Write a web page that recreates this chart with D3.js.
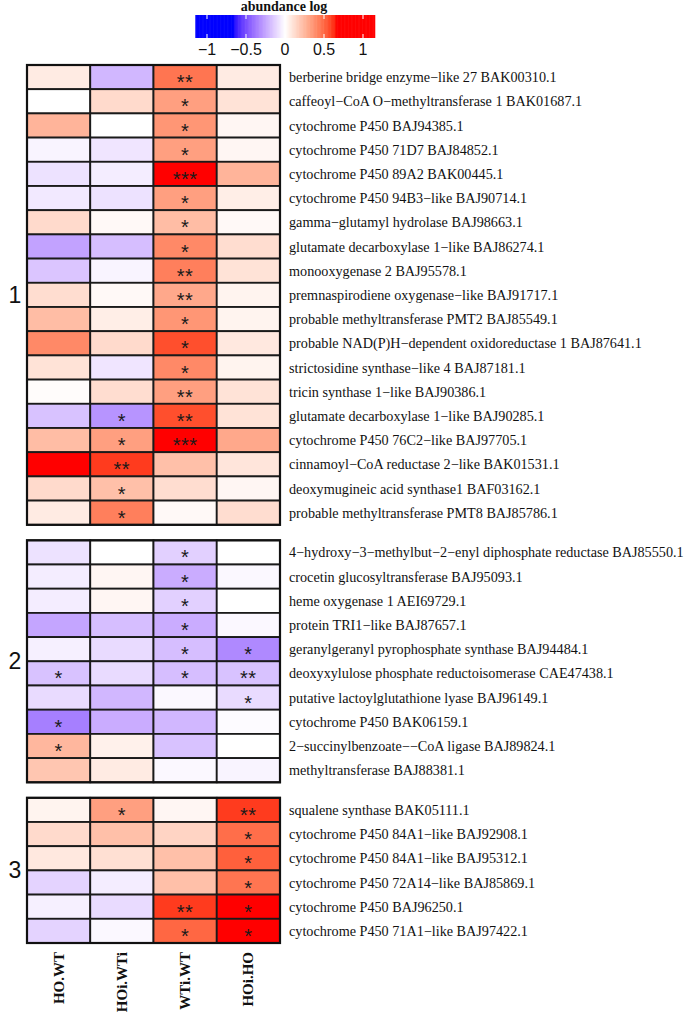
<!DOCTYPE html>
<html><head><meta charset="utf-8">
<script src="https://cdn.jsdelivr.net/npm/d3@7"></script>
<style>body{margin:0;background:#fff}svg{display:block}</style>
</head><body>
<script>
const columns = ["HO.WT","HOi.WTi","WTi.WT","HOi.HO"];
const groupNames = ["1","2","3"];

const labels1 = [
"berberine bridge enzyme\u2212like 27 BAK00310.1",
"caffeoyl\u2212CoA O\u2212methyltransferase 1 BAK01687.1",
"cytochrome P450 BAJ94385.1",
"cytochrome P450 71D7 BAJ84852.1",
"cytochrome P450 89A2 BAK00445.1",
"cytochrome P450 94B3\u2212like BAJ90714.1",
"gamma\u2212glutamyl hydrolase BAJ98663.1",
"glutamate decarboxylase 1\u2212like BAJ86274.1",
"monooxygenase 2 BAJ95578.1",
"premnaspirodiene oxygenase\u2212like BAJ91717.1",
"probable methyltransferase PMT2 BAJ85549.1",
"probable NAD(P)H\u2212dependent oxidoreductase 1 BAJ87641.1",
"strictosidine synthase\u2212like 4 BAJ87181.1",
"tricin synthase 1\u2212like BAJ90386.1",
"glutamate decarboxylase 1\u2212like BAJ90285.1",
"cytochrome P450 76C2\u2212like BAJ97705.1",
"cinnamoyl\u2212CoA reductase 2\u2212like BAK01531.1",
"deoxymugineic acid synthase1 BAF03162.1",
"probable methyltransferase PMT8 BAJ85786.1"];
const values1 = [
[0.07,-0.20,0.46,0.07],
[0.00,0.13,0.33,0.10],
[0.26,0.00,0.36,0.03],
[-0.03,-0.07,0.33,0.03],
[-0.08,-0.05,0.75,0.26],
[-0.06,-0.08,0.33,0.06],
[0.13,0.02,0.23,0.02],
[-0.26,-0.18,0.40,0.12],
[-0.16,-0.03,0.43,0.10],
[0.12,0.02,0.30,0.04],
[0.23,0.06,0.36,0.04],
[0.40,0.13,0.56,0.08],
[0.10,-0.07,0.40,0.04],
[0.01,0.12,0.33,0.10],
[-0.17,-0.30,0.56,0.10],
[0.23,0.33,0.75,0.30],
[0.80,0.60,0.22,0.09],
[0.13,0.22,0.12,0.03],
[0.07,0.43,0.02,0.12]];
const stars1 = [
["","","**",""],["","","*",""],["","","*",""],["","","*",""],["","","***",""],
["","","*",""],["","","*",""],["","","*",""],["","","**",""],["","","**",""],
["","","*",""],["","","*",""],["","","*",""],["","","**",""],["","*","**",""],
["","*","***",""],["","**","",""],["","*","",""],["","*","",""]];

const labels2 = [
"4\u2212hydroxy\u22123\u2212methylbut\u22122\u2212enyl diphosphate reductase BAJ85550.1",
"crocetin glucosyltransferase BAJ95093.1",
"heme oxygenase 1 AEI69729.1",
"protein TRI1\u2212like BAJ87657.1",
"geranylgeranyl pyrophosphate synthase BAJ94484.1",
"deoxyxylulose phosphate reductoisomerase CAE47438.1",
"putative lactoylglutathione lyase BAJ96149.1",
"cytochrome P450 BAK06159.1",
"2\u2212succinylbenzoate\u2212\u2212CoA ligase BAJ89824.1",
"methyltransferase BAJ88381.1"];
const values2 = [
[-0.08,0.00,-0.13,0.00],
[-0.05,0.03,-0.23,-0.02],
[-0.05,0.03,-0.13,0.00],
[-0.25,-0.18,-0.23,-0.02],
[-0.04,-0.10,-0.18,-0.33],
[-0.17,-0.10,-0.18,-0.17],
[-0.10,-0.20,-0.02,-0.10],
[-0.36,-0.23,-0.20,-0.01],
[0.25,0.05,-0.17,0.00],
[0.20,0.07,-0.02,-0.03]];
const stars2 = [
["","","*",""],["","","*",""],["","","*",""],["","","*",""],["","","*","*"],
["*","","*","**"],["","","","*"],["*","","",""],["*","","",""],["","","",""]];

const labels3 = [
"squalene synthase BAK05111.1",
"cytochrome P450 84A1\u2212like BAJ92908.1",
"cytochrome P450 84A1\u2212like BAJ95312.1",
"cytochrome P450 72A14\u2212like BAJ85869.1",
"cytochrome P450 BAJ96250.1",
"cytochrome P450 71A1\u2212like BAJ97422.1"];
const values3 = [
[0.04,0.33,0.03,0.60],
[0.13,0.22,0.15,0.48],
[0.08,0.11,0.22,0.52],
[-0.12,-0.05,0.22,0.46],
[-0.04,-0.10,0.60,0.75],
[-0.12,-0.02,0.50,0.75]];
const stars3 = [
["","*","","**"],["","","","*"],["","","","*"],["","","","*"],["","","**","*"],["","","*","*"]];

const legendTicks = [-1,-0.5,0,0.5,1];
const legendTickLabels = ["\u22121","\u22120.5","0","0.5","1"];

const groups = [
 {name:groupNames[0], labels:labels1, values:values1, stars:stars1},
 {name:groupNames[1], labels:labels2, values:values2, stars:stars2},
 {name:groupNames[2], labels:labels3, values:values3, stars:stars3}];

const W=685,H=1015;
const svg = d3.select("body").append("svg").attr("width",W).attr("height",H);

const sat = 0.66;
const color = d3.scaleLinear().domain([-sat,0,sat]).range(["#0000ff","#ffffff","#ff0000"])
  .interpolate(d3.interpolateLab).clamp(true);

const x = d3.scaleBand().domain(columns).range([27,280]).padding(0);
const rowH = 24.2, top0 = 65, gap = 15.5;

let yStart = top0;
groups.forEach((g,gi)=>{
  const y = d3.scaleBand().domain(d3.range(g.labels.length)).range([yStart, yStart + rowH*g.labels.length]);
  const G = svg.append("g");
  g.values.forEach((row,ri)=>{
    row.forEach((v,ci)=>{
      G.append("rect").attr("x",x(columns[ci])).attr("y",y(ri))
        .attr("width",x.bandwidth()).attr("height",y.bandwidth())
        .attr("fill",color(v)).attr("stroke","#1a1a1a").attr("stroke-width",1.8);
      const s = g.stars[ri][ci];
      if(s){
        G.append("text").attr("x",x(columns[ci])+x.bandwidth()/2).attr("y",y(ri)+y.bandwidth()/2+12)
          .attr("text-anchor","middle").attr("font-family","Liberation Sans, Arial, sans-serif")
          .attr("font-size",20).attr("fill","#1a1a1a").attr("letter-spacing",0.5).text(s);
      }
    });
    G.append("text").attr("x",289).attr("y",y(ri)+y.bandwidth()/2+5)
      .attr("font-family","Liberation Serif, Times New Roman, serif").attr("font-size",14.2)
      .attr("fill","#111").text(g.labels[ri]);
  });
  G.append("rect").attr("x",27).attr("y",yStart).attr("width",253).attr("height",rowH*g.labels.length)
    .attr("fill","none").attr("stroke","#111").attr("stroke-width",2.2);
  svg.append("text").attr("x",15).attr("y",yStart + rowH*g.labels.length/2 + 8)
    .attr("text-anchor","middle").attr("font-family","Liberation Sans, Arial, sans-serif")
    .attr("font-size",23).attr("fill","#111").text(g.name);
  yStart += rowH*g.labels.length + gap;
});

// column labels
const colY = yStart - gap + 9;
columns.forEach(c=>{
  const cx = x(c)+x.bandwidth()/2 + 5;
  svg.append("text").attr("transform",`translate(${cx},${colY}) rotate(-90)`)
    .attr("text-anchor","end").attr("font-family","Liberation Serif, Times New Roman, serif")
    .attr("font-weight","bold").attr("font-size",15).attr("fill","#111").text(c);
});

// legend
const lx = d3.scaleLinear().domain([-1,1]).range([207,363]);
const lg = svg.append("g");
const steps = d3.range(-1.15,1.15,0.01);
lg.selectAll("rect.b").data(steps).join("rect")
  .attr("x",d=>lx(d)).attr("y",15).attr("width",lx(0.011)-lx(0)+0.5).attr("height",23)
  .attr("fill",d=>color(d+0.005));
legendTicks.forEach(t=>{
  lg.append("line").attr("x1",lx(t)).attr("x2",lx(t)).attr("y1",15).attr("y2",19).attr("stroke","#fff").attr("stroke-width",1);
  lg.append("line").attr("x1",lx(t)).attr("x2",lx(t)).attr("y1",34).attr("y2",38).attr("stroke","#fff").attr("stroke-width",1);
});
lg.selectAll("text.t").data(legendTicks).join("text")
  .attr("x",d=>lx(d)).attr("y",55).attr("text-anchor","middle")
  .attr("font-family","Liberation Sans, Arial, sans-serif").attr("font-size",16).attr("fill","#111")
  .text((d,i)=>legendTickLabels[i]);
svg.append("text").attr("x",284).attr("y",11).attr("text-anchor","middle")
  .attr("font-family","Liberation Serif, Times New Roman, serif").attr("font-weight","bold")
  .attr("font-size",14).attr("fill","#111").text("abundance log");
</script>
</body></html>
